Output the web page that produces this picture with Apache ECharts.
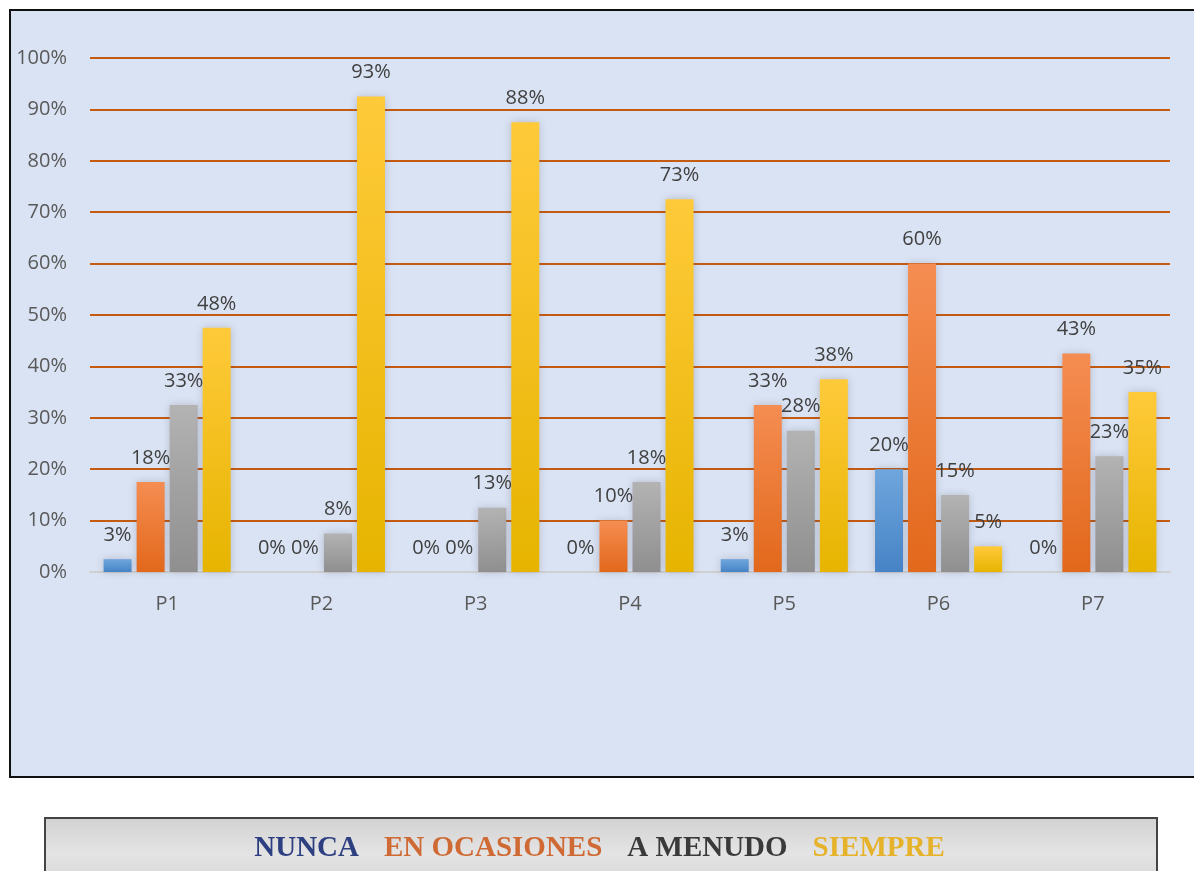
<!DOCTYPE html>
<html>
<head>
<meta charset="utf-8">
<script src="https://cdn.jsdelivr.net/npm/echarts@6/dist/echarts.min.js"></script>
<style>
html,body{margin:0;padding:0;background:#ffffff;}
#chart{width:1194px;height:871px;}
</style>
</head>
<body>
<div id="chart"></div>
<script>
var categories = ['P1','P2','P3','P4','P5','P6','P7'];
var seriesNames = ['NUNCA','EN OCASIONES','A MENUDO','SIEMPRE'];
var nunca = [2.5, 0, 0, 0, 2.5, 20, 0];
var enOcasiones = [17.5, 0, 0, 10, 32.5, 60, 42.5];
var aMenudo = [32.5, 7.5, 12.5, 17.5, 27.5, 15, 22.5];
var siempre = [47.5, 92.5, 87.5, 72.5, 37.5, 5, 35];
var yTicks = [0,10,20,30,40,50,60,70,80,90,100];

var chart = echarts.init(document.getElementById('chart'));

function grad(top, bottom){
  return new echarts.graphic.LinearGradient(0,0,0,1,[{offset:0,color:top},{offset:1,color:bottom}]);
}
var fills = [
  grad('#6fa6dd','#4683c6'),
  grad('#f58d52','#e2681b'),
  grad('#b3b3b3','#8f8f8f'),
  grad('#ffca3a','#e6b400')
];
var legendColors = ['#2d3f80','#cf6a34','#3a3a3a','#e6b22a'];
var allData = [nunca, enOcasiones, aMenudo, siempre];

var series = seriesNames.map(function(n,i){
  return {
    name: n,
    type: 'bar',
    data: allData[i],
    barWidth: 28,
    barGap: '18%',
    itemStyle: {
      color: fills[i],
      shadowBlur: 8,
      shadowColor: 'rgba(60,60,80,0.25)'
    },
    label: {
      show: true,
      position: 'top',
      distance: 14,
      fontFamily: 'Open Sans',
      fontSize: 20,
      color: '#404040',
      formatter: function(p){ return Math.round(p.value) + '%'; }
    }
  };
});

var option = {
  animation: false,
  backgroundColor: '#ffffff',
  graphic: [
    {type:'rect', z:-10, shape:{x:10,y:10,width:1200,height:767}, style:{fill:'#dae3f3', stroke:'#111111', lineWidth:2}},
    {type:'rect', z:-10, shape:{x:45,y:818,width:1112,height:70},
      style:{fill: new echarts.graphic.LinearGradient(0,0,0,1,[{offset:0,color:'#d2d2d2'},{offset:0.5,color:'#e4e4e4'},{offset:1,color:'#d6d6d6'}]), stroke:'#444444', lineWidth:2}}
  ],
  legend: {
    data: seriesNames.map(function(n,i){ return {name:n, textStyle:{color:legendColors[i]}}; }),
    left: 'center',
    top: 829,
    itemWidth: 0,
    itemHeight: 0,
    itemGap: 20,
    selectedMode: false,
    textStyle: {
      fontFamily: 'Liberation Serif',
      fontWeight: 'bold',
      fontSize: 29
    }
  },
  grid: {left: 90, right: 24, top: 58, bottom: 299, containLabel: false},
  xAxis: {
    type: 'category',
    data: categories,
    axisTick: {show:false},
    axisLine: {show:true, lineStyle:{color:'#d0d0d0', width:2}},
    axisLabel: {fontFamily:'Open Sans', fontSize:20, color:'#595959', margin:22}
  },
  yAxis: {
    type: 'value',
    min: 0,
    max: 100,
    interval: 10,
    axisLine: {show:false},
    axisTick: {show:false},
    axisLabel: {fontFamily:'Open Sans', fontSize:20, color:'#595959', margin:23,
      formatter: function(v){ return yTicks.indexOf(v) >= 0 ? v + '%' : ''; }},
    splitLine: {show:true, lineStyle:{color:'#c55a11', width:2}}
  },
  series: series
};
chart.setOption(option);
</script>
</body>
</html>
